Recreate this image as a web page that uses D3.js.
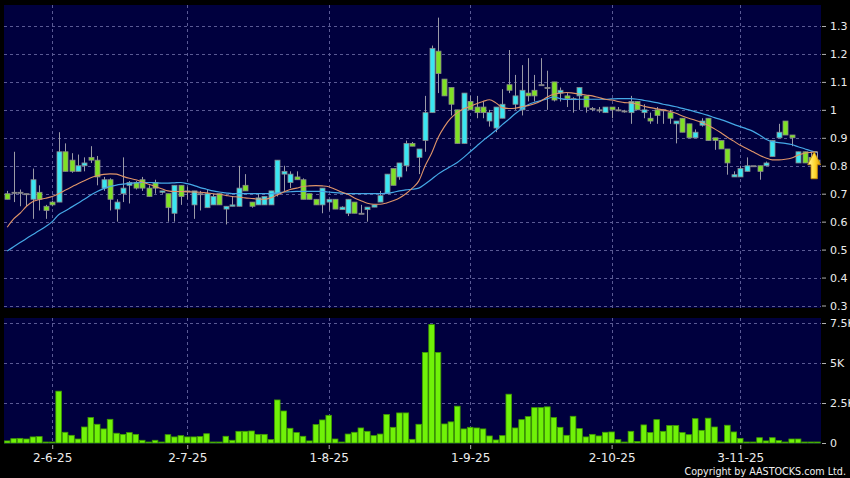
<!DOCTYPE html>
<html><head><meta charset="utf-8">
<script src="https://cdn.jsdelivr.net/npm/d3@7"></script>
<style>
html,body{margin:0;padding:0;background:#000;}
svg{display:block;}
text{font-family:"DejaVu Sans",Verdana,sans-serif;}
</style></head><body>
<svg id="chart" width="850" height="478"></svg>
<script>
// ---- DATA ----
const openP = [
 0.70,0.705,0.705,0.70,0.68,0.705,0.655,0.67,0.67,0.85,
 0.82,0.78,0.80,0.83,0.82,0.72,0.75,0.645,0.70,0.73,
 0.74,0.75,0.72,0.74,0.705,0.70,0.63,0.73,0.71,0.66,
 0.70,0.65,0.66,0.70,0.645,0.655,0.655,0.73,0.67,0.66,
 0.66,0.66,0.70,0.77,0.74,0.76,0.75,0.70,0.68,0.66,
 0.67,0.68,0.643,0.63,0.67,0.63,0.643,0.652,0.67,0.70,
 0.79,0.76,0.80,0.88,0.83,0.89,0.99,1.21,1.11,1.08,
 1.00,0.88,1.03,1.01,1.01,0.96,0.935,0.97,1.09,1.02,
 1.00,1.06,1.07,1.09,1.08,1.10,1.06,1.05,1.04,1.05,
 1.05,1.005,1.00,0.99,1.01,1.00,0.996,0.99,1.03,0.99,
 0.97,1.00,1.00,0.99,0.95,0.97,0.95,0.90,0.945,0.97,
 0.90,0.89,0.86,0.76,0.76,0.78,0.80,0.80,0.80,0.833,
 0.90,0.96,0.91,0.81,0.85,0.83,0.82];
const highP = [
 0.71,0.85,0.715,0.70,0.79,0.73,0.66,0.675,0.92,0.88,
 0.845,0.84,0.83,0.87,0.835,0.76,0.755,0.68,0.83,0.745,
 0.745,0.76,0.73,0.75,0.71,0.70,0.73,0.73,0.725,0.71,
 0.71,0.715,0.70,0.70,0.655,0.69,0.80,0.77,0.67,0.70,
 0.69,0.71,0.82,0.80,0.78,0.78,0.755,0.70,0.68,0.72,
 0.68,0.68,0.655,0.68,0.67,0.66,0.652,0.66,0.71,0.77,
 0.79,0.81,0.89,0.885,0.86,1.05,1.23,1.33,1.11,1.08,
 1.00,1.06,1.05,1.05,1.03,1.00,1.01,1.074,1.214,1.125,
 1.16,1.185,1.125,1.185,1.14,1.10,1.08,1.06,1.045,1.08,
 1.05,1.01,1.01,1.01,1.01,1.01,1.00,1.05,1.03,1.02,
 0.99,1.01,1.00,1.00,0.96,0.97,0.95,0.93,0.97,0.97,
 0.90,0.89,0.86,0.78,0.80,0.83,0.80,0.80,0.815,0.89,
 0.95,0.96,0.91,0.85,0.85,0.85,0.85];
const lowP = [
 0.68,0.67,0.655,0.655,0.61,0.64,0.61,0.655,0.67,0.78,
 0.775,0.78,0.78,0.81,0.73,0.71,0.64,0.60,0.67,0.665,
 0.715,0.71,0.69,0.70,0.70,0.60,0.60,0.66,0.68,0.61,
 0.64,0.65,0.66,0.66,0.59,0.655,0.655,0.71,0.65,0.66,
 0.66,0.66,0.69,0.71,0.72,0.75,0.68,0.68,0.66,0.63,
 0.64,0.645,0.643,0.62,0.63,0.63,0.60,0.652,0.67,0.70,
 0.73,0.75,0.78,0.87,0.77,0.85,0.99,1.06,1.05,0.98,
 0.88,0.88,1.00,0.97,0.97,0.94,0.92,0.97,1.06,1.00,
 0.98,1.03,1.03,1.09,1.00,1.03,1.03,1.01,0.99,1.00,
 0.99,0.995,0.99,0.99,0.97,0.995,0.99,0.95,1.00,0.97,
 0.95,0.95,0.95,0.95,0.88,0.92,0.90,0.90,0.94,0.89,
 0.857,0.86,0.768,0.76,0.76,0.78,0.80,0.75,0.80,0.833,
 0.90,0.91,0.87,0.81,0.81,0.81,0.81];
const closeP = [
 0.68,0.705,0.705,0.70,0.75,0.68,0.64,0.66,0.85,0.78,
 0.78,0.80,0.81,0.82,0.76,0.75,0.68,0.67,0.72,0.74,
 0.72,0.72,0.69,0.72,0.71,0.65,0.73,0.69,0.71,0.71,
 0.70,0.70,0.69,0.66,0.655,0.66,0.72,0.71,0.655,0.685,
 0.69,0.71,0.82,0.78,0.77,0.75,0.68,0.68,0.66,0.72,
 0.68,0.645,0.652,0.68,0.63,0.63,0.652,0.66,0.693,0.77,
 0.73,0.81,0.88,0.87,0.86,0.99,1.22,1.13,1.05,1.02,
 0.88,1.06,1.00,0.99,0.99,0.99,1.01,1.02,1.07,1.05,
 1.07,1.05,1.05,1.09,1.08,1.035,1.07,1.04,1.04,1.08,
 1.01,1.005,1.00,1.01,1.00,1.00,0.996,1.03,1.00,1.00,
 0.96,0.98,1.00,0.97,0.96,0.92,0.90,0.92,0.96,0.89,
 0.89,0.86,0.81,0.768,0.79,0.80,0.80,0.78,0.81,0.89,
 0.92,0.91,0.90,0.85,0.81,0.81,0.81];
const volumeK = [
 0.13,0.27,0.29,0.25,0.38,0.40,0.04,0.04,3.24,0.67,
 0.48,0.25,1.00,1.59,1.17,0.88,1.48,0.61,0.54,0.65,
 0.54,0.17,0.06,0.17,0.06,0.52,0.38,0.46,0.38,0.38,
 0.40,0.58,0.04,0,0.42,0.17,0.73,0.73,0.75,0.54,
 0.54,0.21,2.69,2.00,0.92,0.65,0.42,0.13,1.15,1.44,
 1.73,0.25,0,0.56,0.67,0.94,0.73,0.46,0.56,1.78,
 0.98,1.88,1.88,0.23,1.17,5.66,7.40,5.66,1.19,1.32,
 2.30,0.88,0.98,0.94,0.88,0.44,0.19,0.46,3.05,0.94,
 1.46,1.65,2.21,2.21,2.26,1.59,0.98,0.48,1.67,0.90,
 0.38,0.54,0.44,0.67,0.69,0.21,0,0.73,0.10,1.13,
 0.65,1.46,0.73,1.09,1.09,0.65,0.52,1.52,0.79,1.55,
 1.00,0.04,1.11,0.69,0.29,0.04,0,0.33,0.13,0.33,
 0.15,0.02,0.25,0.25,0.02,0.02,0.06];
const maShort = [
 0.58,0.61,0.63,0.655,0.672,0.679,0.684,0.69,0.70,0.712,
 0.724,0.736,0.746,0.757,0.764,0.769,0.771,0.77,0.762,0.755,
 0.75,0.742,0.734,0.726,0.718,0.71,0.708,0.708,0.707,0.706,
 0.705,0.703,0.70,0.698,0.694,0.69,0.688,0.685,0.683,0.681,
 0.68,0.685,0.695,0.706,0.715,0.72,0.726,0.728,0.729,0.728,
 0.725,0.716,0.706,0.698,0.685,0.675,0.666,0.662,0.662,0.667,
 0.675,0.685,0.70,0.72,0.745,0.80,0.845,0.90,0.94,0.97,
 0.99,1.004,1.012,1.022,1.03,1.036,1.025,1.008,1.005,1.006,
 1.011,1.015,1.022,1.032,1.046,1.056,1.06,1.062,1.06,1.057,
 1.053,1.05,1.044,1.038,1.035,1.03,1.026,1.025,1.02,1.013,
 1.008,1.004,1.0,0.995,0.988,0.978,0.97,0.963,0.955,0.945,
 0.932,0.918,0.902,0.888,0.873,0.862,0.85,0.838,0.828,0.821,
 0.821,0.823,0.828,0.838,0.845,0.848,0.85];
const maLong = [
 0.495,0.51,0.525,0.54,0.554,0.568,0.583,0.60,0.625,0.638,
 0.652,0.666,0.68,0.695,0.708,0.718,0.726,0.731,0.734,0.737,
 0.739,0.74,0.74,0.739,0.738,0.738,0.739,0.74,0.736,0.73,
 0.722,0.716,0.71,0.706,0.703,0.70,0.70,0.70,0.70,0.70,
 0.70,0.70,0.703,0.706,0.707,0.708,0.708,0.708,0.708,0.708,
 0.706,0.704,0.702,0.70,0.70,0.70,0.70,0.70,0.70,0.702,
 0.705,0.71,0.714,0.716,0.72,0.735,0.752,0.77,0.785,0.798,
 0.812,0.83,0.85,0.87,0.89,0.908,0.927,0.947,0.966,0.986,
 1.003,1.018,1.027,1.033,1.04,1.046,1.04,1.037,1.037,1.038,
 1.038,1.038,1.038,1.038,1.039,1.04,1.04,1.04,1.038,1.034,
 1.03,1.026,1.02,1.016,1.011,1.005,1.0,0.993,0.987,0.98,
 0.972,0.965,0.957,0.948,0.94,0.932,0.923,0.91,0.895,0.886,
 0.883,0.88,0.876,0.868,0.861,0.853,0.848];
const dateTickIndex = [7, 28, 50, 72, 94, 114];
const dateTickLabels = ["2-6-25","2-7-25","1-8-25","1-9-25","2-10-25","3-11-25"];
const priceTicks = [0.3,0.4,0.5,0.6,0.7,0.8,0.9,1.0,1.1,1.2,1.3];
const volumeTicks = [0, 2500, 5000, 7500];

// ---- DRAWING ----
const W = 850, H = 478;
const N = closeP.length;
const volume = volumeK.map(v => v * 1000);
const svg = d3.select("#chart");
const P = {left: 4, right: 821, top: 5, bottom: 308};
const V = {top: 318, bottom: 444};

const x = d3.scaleLinear().domain([0, N - 1]).range([7.2, 817.4]);
const yP = d3.scaleLinear().domain([0.3, 1.3]).range([305.5, 26]);
const yV = d3.scaleLinear().domain([0, 7500]).range([443, 323]);
const px = i => Math.round(x(i)) + 0.5;

const navy = "#00003e";
const gridCol = "#5a5a94";
svg.append("rect").attr("width", W).attr("height", H).attr("fill", "#000");
svg.append("rect").attr("x", P.left).attr("y", P.top).attr("width", P.right - P.left).attr("height", P.bottom - P.top).attr("fill", navy);
svg.append("rect").attr("x", P.left).attr("y", V.top).attr("width", P.right - P.left).attr("height", V.bottom - V.top).attr("fill", navy);

const defs = svg.append("defs");
defs.append("clipPath").attr("id", "clipP").append("rect")
  .attr("x", P.left).attr("y", P.top).attr("width", P.right - P.left).attr("height", P.bottom - P.top);
defs.append("clipPath").attr("id", "clipV").append("rect")
  .attr("x", P.left).attr("y", V.top).attr("width", P.right - P.left).attr("height", V.bottom - V.top);
const grad = defs.append("linearGradient").attr("id", "arrowGrad").attr("x1", "0").attr("x2", "1").attr("y1", "0").attr("y2", "0");
grad.append("stop").attr("offset", "0%").attr("stop-color", "#fff7a0");
grad.append("stop").attr("offset", "55%").attr("stop-color", "#ffd830");
grad.append("stop").attr("offset", "100%").attr("stop-color", "#e09a00");

// grids
const gP = svg.append("g").attr("clip-path", "url(#clipP)");
gP.selectAll("line.hg").data(priceTicks).join("line")
  .attr("x1", P.left).attr("x2", P.right)
  .attr("y1", d => Math.round(yP(d)) + 0.5).attr("y2", d => Math.round(yP(d)) + 0.5)
  .attr("stroke", gridCol).attr("stroke-dasharray", "3,3");
gP.selectAll("line.vg").data(dateTickIndex).join("line")
  .attr("x1", d => px(d)).attr("x2", d => px(d))
  .attr("y1", P.top).attr("y2", P.bottom)
  .attr("stroke", gridCol).attr("stroke-dasharray", "3,3");

const gV = svg.append("g").attr("clip-path", "url(#clipV)");
gV.selectAll("line.hg").data(volumeTicks.filter(d => d > 0)).join("line")
  .attr("x1", P.left).attr("x2", P.right)
  .attr("y1", d => Math.round(yV(d)) + 0.5).attr("y2", d => Math.round(yV(d)) + 0.5)
  .attr("stroke", gridCol).attr("stroke-dasharray", "3,3");
gV.selectAll("line.vg").data(dateTickIndex).join("line")
  .attr("x1", d => px(d)).attr("x2", d => px(d))
  .attr("y1", V.top).attr("y2", V.bottom)
  .attr("stroke", gridCol).attr("stroke-dasharray", "3,3");

// candles
const idx = d3.range(N);
const upFill = "#3ae6f2", downFill = "#7fe125";
gP.selectAll("line.wick").data(idx).join("line")
  .attr("x1", px).attr("x2", px)
  .attr("y1", i => yP(highP[i])).attr("y2", i => yP(lowP[i]))
  .attr("stroke", "#9a9aa6").attr("stroke-width", 1);
gP.selectAll("rect.body").data(idx).join("rect")
  .attr("x", i => px(i) - 2.5)
  .attr("width", 5)
  .attr("y", i => yP(Math.max(openP[i], closeP[i])))
  .attr("height", i => Math.max(1, Math.abs(yP(openP[i]) - yP(closeP[i]))))
  .attr("fill", i => closeP[i] > openP[i] ? upFill : (closeP[i] < openP[i] ? downFill : "#9a9aa6"))
  .attr("stroke", "#8a8a8a").attr("stroke-width", 0.8);

// moving averages
const line = arr => d3.line().x((d, i) => x(i)).y(d => yP(d)).curve(d3.curveMonotoneX)(arr);
gP.append("path").attr("d", line(maLong)).attr("fill", "none").attr("stroke", "#45a8e6").attr("stroke-width", 1.2);
gP.append("path").attr("d", line(maShort)).attr("fill", "none").attr("stroke", "#df9469").attr("stroke-width", 1.1);

// arrow marker at the last candle
const ax = (x(N - 2) + x(N - 1)) / 2, ay = yP(highP[N - 1]);
gP.append("path")
  .attr("d", `M${ax},${ay} L${ax + 6.5},${ay + 13} L${ax + 3.2},${ay + 13} L${ax + 3.2},${ay + 27} L${ax - 3.2},${ay + 27} L${ax - 3.2},${ay + 13} L${ax - 6.5},${ay + 13} Z`)
  .attr("fill", "url(#arrowGrad)").attr("stroke", "#c88a00").attr("stroke-width", 0.8);

// volume bars
gV.selectAll("rect.vol").data(idx).join("rect")
  .attr("x", i => x(i) - 2.8)
  .attr("width", 5.6)
  .attr("y", i => Math.min(yV(volume[i]), yV(0) - 1))
  .attr("height", i => Math.max(1, yV(0) - yV(volume[i])))
  .attr("fill", "#70f208").attr("stroke", "#3f9c00").attr("stroke-width", 0.8);

// axes
function styleAxis(g, size) {
  g.select(".domain").remove();
  g.selectAll(".tick line").attr("stroke", "#b0b0b0");
  g.selectAll(".tick text").attr("fill", "#ececec").attr("font-size", size)
    .attr("font-family", '"DejaVu Sans",Verdana,sans-serif');
}
svg.append("g").attr("transform", "translate(822,0)")
  .call(d3.axisRight(yP).tickValues(priceTicks).tickSize(4).tickPadding(4).tickFormat(d => String(+d.toFixed(1))))
  .call(g => styleAxis(g, "11px"));
svg.append("g").attr("transform", "translate(822,0)")
  .call(d3.axisRight(yV).tickValues(volumeTicks).tickSize(4).tickPadding(4).tickFormat(d => d === 0 ? "0" : (d / 1000) + "K"))
  .call(g => styleAxis(g, "11px"));
const labelOf = new Map(dateTickIndex.map((d, i) => [d, dateTickLabels[i]]));
svg.append("g").attr("transform", "translate(0,445)")
  .call(d3.axisBottom(x).tickValues(dateTickIndex).tickSize(4).tickPadding(4).tickFormat(d => labelOf.get(d)))
  .call(g => styleAxis(g, "12px"));

svg.append("text").attr("x", 846).attr("y", 475).attr("text-anchor", "end")
  .attr("fill", "#f0f0f0").attr("font-size", "9.6px").text("Copyright by AASTOCKS.com Ltd.");
</script>
</body></html>
